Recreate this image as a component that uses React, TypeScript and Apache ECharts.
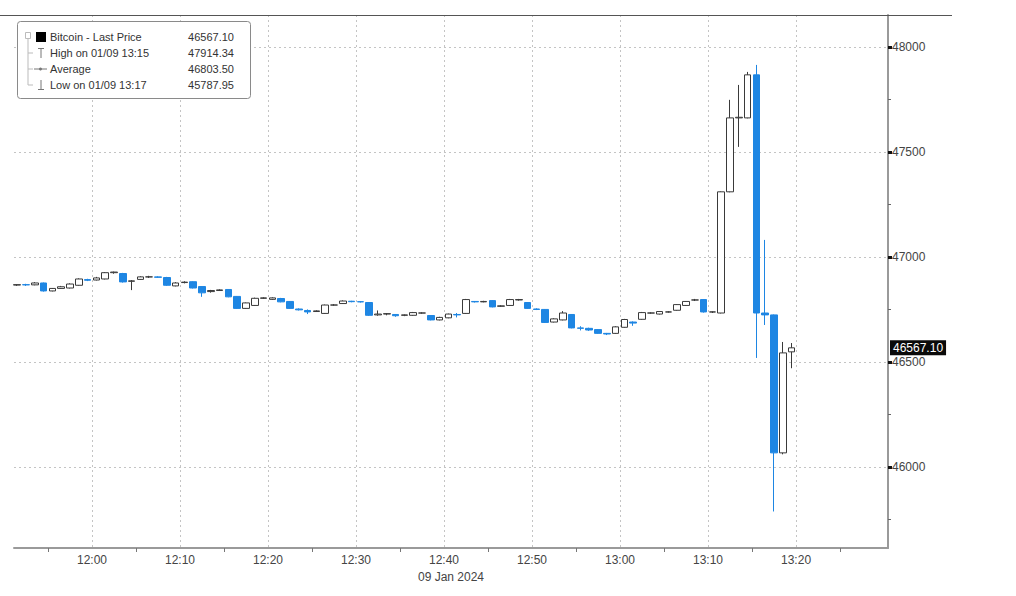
import React, { useEffect, useRef } from "react";
import * as echarts from "echarts";

// 1-minute bars, 09 Jan 2024
const times = [
  "11:51","11:52","11:53","11:54","11:55","11:56","11:57","11:58","11:59",
  "12:00","12:01","12:02","12:03","12:04","12:05","12:06","12:07","12:08","12:09",
  "12:10","12:11","12:12","12:13","12:14","12:15","12:16","12:17","12:18","12:19",
  "12:20","12:21","12:22","12:23","12:24","12:25","12:26","12:27","12:28","12:29",
  "12:30","12:31","12:32","12:33","12:34","12:35","12:36","12:37","12:38","12:39",
  "12:40","12:41","12:42","12:43","12:44","12:45","12:46","12:47","12:48","12:49",
  "12:50","12:51","12:52","12:53","12:54","12:55","12:56","12:57","12:58","12:59",
  "13:00","13:01","13:02","13:03","13:04","13:05","13:06","13:07","13:08","13:09",
  "13:10","13:11","13:12","13:13","13:14","13:15","13:16","13:17","13:18","13:19",
];

const opens = [
  46866,46868,46867,46876,46838,46850,46852,46865,46892,
  46890,46895,46925,46921,46884,46893,46905,46905,46902,46862,
  46878,46882,46859,46835,46840,46845,46812,46755,46769,46803,
  46798,46802,46788,46752,46745,46740,46731,46771,46778,46789,
  46787,46783,46724,46728,46726,46722,46722,46733,46721,46700,
  46710,46726,46731,46788,46786,46792,46765,46769,46795,46783,
  46752,46750,46690,46700,46726,46662,46660,46654,46636,46636,
  46665,46690,46703,46733,46728,46738,46746,46769,46795,46797,
  46738,46733,47310,47662,47662,47867,46733,46724,46067,46548,
];

const closes = [
  46868,46867,46876,46838,46850,46858,46871,46895,46889,
  46900,46925,46928,46881,46886,46905,46905,46903,46865,46876,
  46880,46852,46829,46840,46843,46810,46755,46781,46803,46805,
  46805,46786,46755,46748,46738,46743,46771,46771,46790,46787,
  46786,46722,46728,46730,46720,46724,46735,46733,46700,46712,
  46728,46724,46797,46786,46788,46762,46767,46797,46797,46755,
  46750,46688,46705,46733,46662,46660,46652,46636,46633,46667,
  46702,46685,46735,46733,46740,46738,46773,46788,46795,46738,
  46738,47310,47662,47665,47867,46733,46724,46067,46543,46567.1,
];

const lows = [
  46862,46862,46865,46835,46836,46848,46850,46863,46885,
  46888,46893,46920,46878,46842,46891,46900,46900,46862,46860,
  46874,46850,46810,46830,46838,46808,46753,46753,46767,46800,
  46795,46784,46753,46745,46728,46738,46729,46768,46776,46784,
  46783,46719,46720,46722,46715,46718,46720,46730,46698,46698,
  46708,46712,46729,46783,46784,46760,46762,46767,46792,46753,
  46747,46686,46688,46698,46660,46650,46648,46634,46628,46634,
  46663,46672,46701,46730,46726,46735,46744,46767,46790,46735,
  46733,46731,47308,47524,47660,46519,46676,45787.95,46060,46470,
];

const highs = [
  46870,46872,46880,46878,46852,46862,46874,46898,46896,
  46905,46928,46930,46924,46890,46908,46910,46908,46905,46880,
  46884,46884,46861,46843,46846,46847,46814,46783,46806,46808,
  46808,46805,46790,46755,46750,46746,46773,46775,46793,46791,
  46790,46785,46745,46733,46728,46726,46738,46736,46723,46715,
  46730,46733,46800,46790,46791,46794,46770,46800,46800,46785,
  46755,46752,46708,46742,46728,46670,46663,46656,46638,46670,
  46705,46693,46738,46736,46742,46741,46775,46790,46800,46799,
  46740,47312,47748,47819,47881,47914.34,47081,46726,46595,46590,
];

const xLabelTimes = ["12:00","12:10","12:20","12:30","12:40","12:50","13:00","13:10","13:20"];
const xMinorTickTimes = ["11:55","12:05","12:15","12:25","12:35","12:45","12:55","13:05","13:15","13:25"];
const yLabels = [46000, 46500, 47000, 47500, 48000];
const yMinorTicks = [45750, 46250, 46750, 47250, 47750];
const lastPrice = 46567.1;

const legendNames = ["Bitcoin - Last Price", "High on 01/09 13:15", "Average", "Low on 01/09 13:17"];
const legendValues = ["46567.10", "47914.34", "46803.50", "45787.95"];

const toMin = (t: string) => {
  const [h, m] = t.split(":").map(Number);
  return h * 60 + m;
};
const fmtMin = (v: number) => {
  const h = Math.floor(v / 60);
  const m = Math.round(v - h * 60);
  return `${h}:${m < 10 ? "0" + m : m}`;
};

const FONT = "'Liberation Sans', Arial, sans-serif";
const BLUE = "#1e86e3";

export default function App() {
  const ref = useRef<HTMLDivElement>(null);

  useEffect(() => {
    document.body.style.margin = "0";
    if (!ref.current) return;
    const chart = echarts.init(ref.current, null, { renderer: "svg" });

    const data = times.map((t, i) => [toMin(t) + 0.5, opens[i], closes[i], lows[i], highs[i]]);
    const xMin = toMin("12:00") - 8.864;
    const xMax = toMin("13:20") + 10.45;
    const yMin = 45614;
    const yMax = 48152;

    const rowY = [37, 53, 69, 85];
    const legendGraphics: any[] = [
      { type: "rect", z: 100, shape: { x: 17.5, y: 21.5, width: 233, height: 77, r: 3 }, style: { fill: "#fff", stroke: "#8a8a8a", lineWidth: 1 } },
      { type: "rect", z: 101, shape: { x: 25.5, y: 32.5, width: 5, height: 6 }, style: { fill: "none", stroke: "#bbb", lineWidth: 1 } },
      { type: "line", z: 101, shape: { x1: 28, y1: 39, x2: 28, y2: 85 }, style: { stroke: "#bbb", lineWidth: 1 } },
      { type: "line", z: 101, shape: { x1: 28, y1: 53, x2: 33, y2: 53 }, style: { stroke: "#bbb", lineWidth: 1 } },
      { type: "line", z: 101, shape: { x1: 28, y1: 69, x2: 33, y2: 69 }, style: { stroke: "#bbb", lineWidth: 1 } },
      { type: "line", z: 101, shape: { x1: 28, y1: 85, x2: 33, y2: 85 }, style: { stroke: "#bbb", lineWidth: 1 } },
      { type: "rect", z: 101, shape: { x: 36, y: 32, width: 10, height: 10 }, style: { fill: "#000" } },
      { type: "line", z: 101, shape: { x1: 41, y1: 48, x2: 41, y2: 58 }, style: { stroke: "#777", lineWidth: 1 } },
      { type: "line", z: 101, shape: { x1: 38, y1: 48.5, x2: 44, y2: 48.5 }, style: { stroke: "#777", lineWidth: 1 } },
      { type: "line", z: 101, shape: { x1: 34, y1: 69, x2: 47, y2: 69 }, style: { stroke: "#777", lineWidth: 1 } },
      { type: "circle", z: 101, shape: { cx: 40.5, cy: 69, r: 1.5 }, style: { fill: "#777" } },
      { type: "line", z: 101, shape: { x1: 41, y1: 80, x2: 41, y2: 89 }, style: { stroke: "#777", lineWidth: 1 } },
      { type: "line", z: 101, shape: { x1: 38, y1: 89.5, x2: 44, y2: 89.5 }, style: { stroke: "#777", lineWidth: 1 } },
    ];
    legendNames.forEach((n, i) => {
      legendGraphics.push({
        type: "text", z: 102, x: 50, y: rowY[i],
        style: { text: n, fill: "#333", font: `11px ${FONT}`, textVerticalAlign: "middle" },
      });
      legendGraphics.push({
        type: "text", z: 102, x: 234, y: rowY[i],
        style: { text: legendValues[i], fill: "#333", font: `11px ${FONT}`, textAlign: "right", textVerticalAlign: "middle" },
      });
    });

    chart.setOption({
      animation: false,
      backgroundColor: "#fff",
      textStyle: { fontFamily: FONT },
      grid: { left: 14, right: 128, top: 15, bottom: 48, containLabel: false },
      xAxis: [
        {
          type: "value", min: xMin, max: xMax, position: "bottom",
          axisLine: { show: true, lineStyle: { color: "#9a9a9a", width: 2 } },
          axisTick: { show: false, customValues: xLabelTimes.map(toMin) },
          axisLabel: {
            customValues: xLabelTimes.map(toMin), formatter: (v: number) => fmtMin(v),
            color: "#444", fontSize: 12, margin: 6, fontFamily: FONT,
          },
          splitLine: { show: true, lineStyle: { color: "#c4c4c4", type: [2, 3], width: 1 } },
          name: "09 Jan 2024", nameLocation: "middle", nameGap: 21,
          nameTextStyle: { color: "#444", fontSize: 12, fontFamily: FONT },
        },
        {
          type: "value", min: xMin, max: xMax, position: "bottom",
          axisLine: { show: false },
          axisTick: { show: true, customValues: xMinorTickTimes.map(toMin), length: 4, lineStyle: { color: "#777" } },
          axisLabel: { show: false },
          splitLine: { show: false },
        },
      ],
      yAxis: [
        {
          type: "value", position: "right", min: yMin, max: yMax,
          axisLine: { show: true, lineStyle: { color: "#9a9a9a", width: 2 } },
          axisTick: { show: true, customValues: yLabels, length: 4, lineStyle: { color: "#111", width: 3 } },
          axisLabel: {
            customValues: yLabels, formatter: (v: number) => String(v),
            color: "#444", fontSize: 12, margin: 4, fontFamily: FONT,
          },
          splitLine: { show: true, lineStyle: { color: "#c4c4c4", type: [2, 3], width: 1 } },
        },
        {
          type: "value", position: "right", min: yMin, max: yMax,
          axisLine: { show: false },
          axisTick: { show: true, customValues: yMinorTicks, length: 3, lineStyle: { color: "#666" } },
          axisLabel: { show: false },
          splitLine: { show: false },
        },
      ],
      graphic: [
        { type: "line", z: 90, shape: { x1: 0, y1: 15.5, x2: 952, y2: 15.5 }, style: { stroke: "#555", lineWidth: 1 } },
        ...legendGraphics,
      ],
      series: [
        {
          type: "candlestick",
          xAxisIndex: 0, yAxisIndex: 0,
          clip: false,
          data,
          encode: { x: 0, y: [1, 2, 3, 4] },
          barWidth: 7,
          itemStyle: {
            color: "#ffffff", color0: BLUE,
            borderColor: "#3a3a3a", borderColor0: BLUE, borderColorDoji: "#3a3a3a",
            borderWidth: 1,
          },
          markLine: {
            silent: true, symbol: ["none", "none"],
            lineStyle: { color: "rgba(0,0,0,0)", width: 1 },
            label: {
              show: true, position: "end", distance: 2,
              formatter: lastPrice.toFixed(2),
              backgroundColor: "#0a0a0a", color: "#ffffff", fontSize: 12,
              padding: [2, 3, 1, 3], fontFamily: FONT,
            },
            data: [{ yAxis: lastPrice }],
          },
        },
      ],
    });

    return () => chart.dispose();
  }, []);

  return <div ref={ref} style={{ position: "fixed", left: 0, top: 0, width: 1016, height: 596 }} />;
}
